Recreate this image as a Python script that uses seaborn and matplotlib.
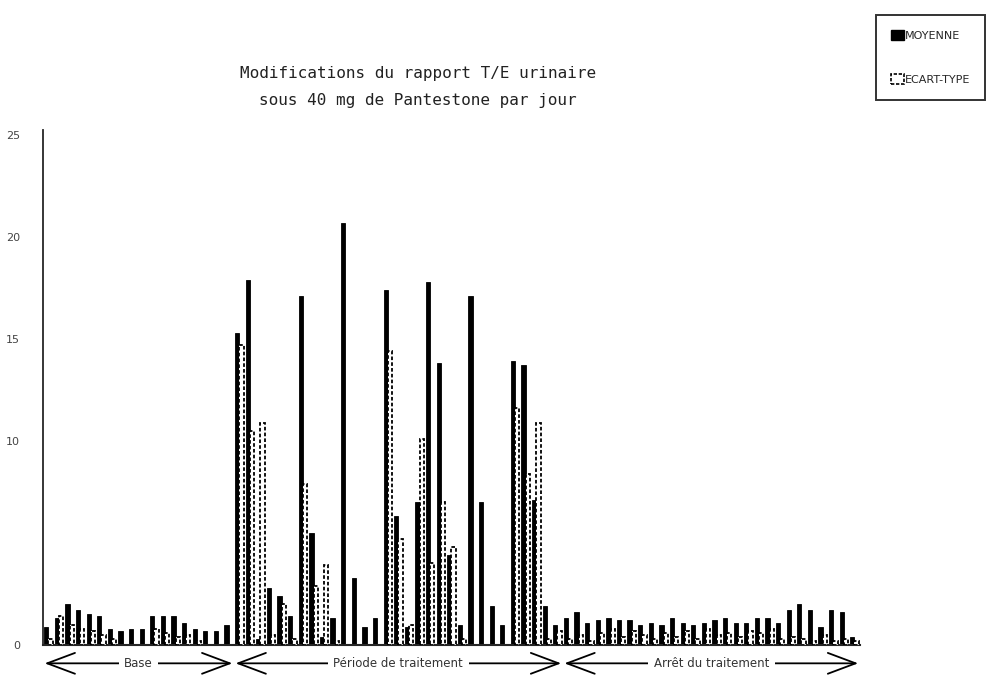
import matplotlib
matplotlib.use("Agg")
import matplotlib.pyplot as plt
from matplotlib.patches import Patch
import pandas as pd
import seaborn as sns

# Rapport T/E urinaire : moyenne et écart-type par jour, pour chaque période
base_moyenne = [0.9, 1.3, 2.0, 1.7, 1.5, 1.4, 0.8, 0.7, 0.8, 0.8, 1.4, 1.4,
                1.4, 1.1, 0.8, 0.7, 0.7, 1.0]
base_ecart = [0.3, 1.4, 1.0, 0.8, 0.7, 0.5, 0.3, 0.0, 0.0, 0.0, 0.8, 0.6,
              0.4, 0.5, 0.2, 0.0, 0.0, 0.0]

traitement_moyenne = [15.3, 17.9, 0.3, 2.8, 2.4, 1.4, 17.1, 5.5, 0.4, 1.3,
                      20.7, 3.3, 0.9, 1.3, 17.4, 6.3, 0.9, 7.0, 17.8, 13.8,
                      4.4, 1.0, 17.1, 7.0, 1.9, 1.0, 13.9, 13.7, 7.1, 1.9, 1.0]
traitement_ecart = [14.7, 10.5, 10.9, 0.5, 2.0, 0.3, 7.9, 2.9, 3.9, 0.2,
                    0.0, 0.0, 0.0, 0.0, 14.4, 5.2, 1.0, 10.1, 4.0, 7.0,
                    4.8, 0.3, 0.0, 0.0, 0.0, 0.0, 11.6, 8.4, 10.9, 0.3, 0.7]

arret_moyenne = [1.3, 1.6, 1.1, 1.2, 1.3, 1.2, 1.2, 1.0, 1.1, 1.0, 1.3, 1.1,
                 1.0, 1.1, 1.2, 1.3, 1.1, 1.1, 1.3, 1.3, 1.1, 1.7, 2.0, 1.7,
                 0.9, 1.7, 1.6, 0.4]
arret_ecart = [0.3, 0.5, 0.2, 0.6, 0.8, 0.4, 0.7, 0.5, 0.3, 0.6, 0.4, 0.7,
               0.3, 0.8, 0.5, 0.6, 0.4, 0.7, 0.6, 0.8, 0.3, 0.4, 0.3, 0.2,
               0.5, 0.2, 0.3, 0.2]

periodes = ["Base", "Période de traitement", "Arrêt du traitement"]
y_ticks = [0, 5, 10, 15, 20, 25]
y_tick_labels = ["0", "", "10", "15", "20", "25"]
series = ["MOYENNE", "ECART-TYPE"]

moyenne = base_moyenne + traitement_moyenne + arret_moyenne
ecart = base_ecart + traitement_ecart + arret_ecart
n_jours = len(moyenne)
jours = list(range(1, n_jours + 1))

df = pd.DataFrame({
    "jour": jours * 2,
    "serie": [series[0]] * n_jours + [series[1]] * n_jours,
    "valeur": moyenne + ecart,
})

sns.set_style("white")
plt.rcParams["font.family"] = ["DejaVu Sans"]

fig = plt.figure(figsize=(9.87, 6.76), dpi=100)
ax = fig.add_axes([0.0436, 0.0459, 0.8275, 0.762])

sns.barplot(data=df, x="jour", y="valeur", hue="serie", hue_order=series,
            palette=["black", "white"], width=0.8, ax=ax, legend=False,
            saturation=1)

# moyenne : barres pleines ; écart-type : barres blanches à contour pointillé
for bar in ax.containers[0]:
    bar.set_facecolor("black")
    bar.set_edgecolor("black")
    bar.set_linewidth(0.6)
for bar in ax.containers[1]:
    bar.set_facecolor("white")
    bar.set_edgecolor("black")
    bar.set_linestyle((0, (2, 1.2)))
    bar.set_linewidth(1.3)
    bar.set_zorder(3)
    if bar.get_height() <= 0:
        bar.set_visible(False)

ax.set_xlim(-0.5, n_jours - 0.5)
ax.set_ylim(0, 25.25)
ax.set_yticks(y_ticks)
ax.set_yticklabels(y_tick_labels)
ax.set_xticks([])
ax.set_xlabel("")
ax.set_ylabel("")
ax.tick_params(axis="y", direction="inout", length=13, width=1.3,
               pad=10, labelsize=8, labelcolor="#444444")
for side in ["top", "right"]:
    ax.spines[side].set_visible(False)
ax.spines["left"].set_linewidth(1.3)
ax.spines["bottom"].set_linewidth(1.5)

# flèches des périodes sous l'axe
longueurs = [len(base_moyenne), len(traitement_moyenne), len(arret_moyenne)]
debut = 0
y_fleche = -0.9
for nom, n in zip(periodes, longueurs):
    x0 = debut - 0.35
    x1 = debut + n - 0.65
    ax.annotate("", xy=(x0, y_fleche), xytext=(x1, y_fleche),
                xycoords="data", annotation_clip=False,
                arrowprops=dict(arrowstyle="<->,head_length=2.0,head_width=0.75",
                                color="black", lw=1.3, shrinkA=0, shrinkB=0))
    ax.text((x0 + x1) / 2, y_fleche, nom, ha="center", va="center",
            fontsize=8.5, color="#333333", clip_on=False,
            bbox=dict(facecolor="white", edgecolor="none", pad=4))
    debut += n

fig.text(0.4235, 0.8715,
         "Modifications du rapport T/E urinaire\nsous 40 mg de Pantestone par jour",
         ha="center", va="center", fontsize=11.5, linespacing=1.95,
         family="DejaVu Sans Mono", color="#222222")

handles = [Patch(facecolor="black", edgecolor="black"),
           Patch(facecolor="white", edgecolor="black", linestyle=(0, (2, 1)),
                 linewidth=1.2)]
leg = fig.legend(handles, series, loc="upper right",
                 bbox_to_anchor=(0.998, 0.978), borderaxespad=0,
                 fontsize=8, handlelength=1.1, handleheight=1.0,
                 handletextpad=0.1, labelspacing=3.0, borderpad=1.35,
                 fancybox=False, frameon=True)
leg.get_frame().set_edgecolor("black")
leg.get_frame().set_linewidth(1.4)

fig.savefig("out.png", dpi=100, facecolor="white")
